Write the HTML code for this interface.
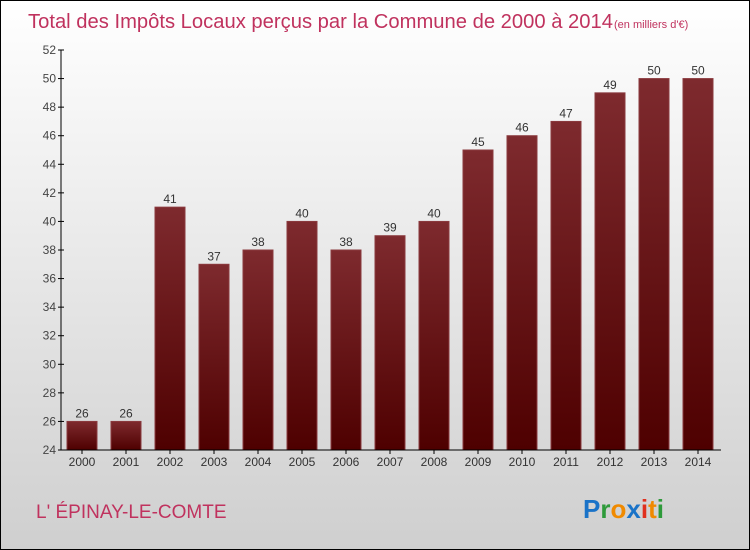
<!DOCTYPE html>
<html><head><meta charset="utf-8"><style>
body{margin:0;}
#wrap{width:748px;height:548px;border:1px solid #000;background:linear-gradient(#ffffff,#cfcfcf);position:relative;overflow:hidden;font-family:"Liberation Sans",sans-serif;}
</style></head><body>
<div id="wrap">
<svg width="748" height="548" id="svg">
<defs><linearGradient id="bg" x1="0" y1="0" x2="0" y2="1"><stop offset="0" stop-color="#7e2a2e"/><stop offset="1" stop-color="#4e0000"/></linearGradient></defs>
<text x="27" y="27" font-size="20" fill="#c0325e" textLength="585" lengthAdjust="spacingAndGlyphs">Total des Impôts Locaux perçus par la Commune de 2000 à 2014</text>
<text x="613" y="27" font-size="11" fill="#c0325e">(en milliers d'€)</text>
<text x="35" y="517" font-size="19" fill="#c0325e">L' ÉPINAY-LE-COMTE</text>
<text x="582" y="517" font-size="26" font-weight="bold"><tspan fill="#1a73c8">P</tspan><tspan fill="#2e9a3a">r</tspan><tspan fill="#f08a00">o</tspan><tspan fill="#1a73c8">x</tspan><tspan fill="#e0301e">i</tspan><tspan fill="#f08a00">t</tspan><tspan fill="#2e9a3a">i</tspan></text>
<g id="g"></g>
</svg>
</div>
<script>
const years=["2000","2001","2002","2003","2004","2005","2006","2007","2008","2009","2010","2011","2012","2013","2014"];
const values=[26,26,41,37,38,40,38,39,40,45,46,47,49,50,50];
const yTicks=[24,26,28,30,32,34,36,38,40,42,44,46,48,50,52];
const NS="http://www.w3.org/2000/svg";
const g=document.getElementById('g');
const y=v=>449-(v-24)*(400/28);
const x=i=>81+i*44;
function mk(t,a){const e=document.createElementNS(NS,t);for(const k in a)e.setAttribute(k,a[k]);g.appendChild(e);return e;}
yTicks.forEach(t=>{
 const l=mk('line',{x1:57,x2:63,y1:y(t),y2:y(t),stroke:'#000'});
 
 
 const tx=mk('text',{x:55,y:y(t)+4,'font-size':12,fill:'#444','text-anchor':'end'});tx.textContent=t;
 
 
});
values.forEach((v,i)=>{
 const r=mk('rect',{x:x(i)-15,y:y(v),width:30,height:449-y(v),fill:'url(#bg)',stroke:'#8a3a3e','stroke-width':1});
 
 
 const t=mk('text',{x:x(i),y:y(v)-4,'font-size':12,fill:'#333','text-anchor':'middle'});t.textContent=v;
 
 
 const tk=mk('line',{x1:x(i),x2:x(i),y1:449,y2:453,stroke:'#000'});
 
 
 const yl=mk('text',{x:x(i),y:465,'font-size':12,fill:'#333','text-anchor':'middle'});yl.textContent=years[i];
 
 
});
const ya=mk('line',{x1:60,x2:60,y1:49,y2:449,stroke:'#000'});


const xa=mk('line',{x1:60,x2:720,y1:449,y2:449,stroke:'#000'});


</script>
</body></html>
